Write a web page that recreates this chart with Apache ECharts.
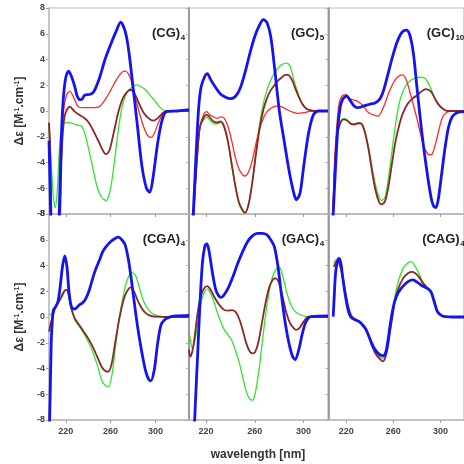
<!DOCTYPE html>
<html>
<head>
<meta charset="utf-8">
<script src="https://cdn.jsdelivr.net/npm/echarts@6/dist/echarts.min.js"></script>
<style>
  html, body { margin: 0; padding: 0; background: #fff; }
  #chart { width: 464px; height: 464px; }
</style>
</head>
<body>
<div id="chart"></div>
<script>
// CD spectra, six oligonucleotides; x = wavelength (nm), y = Δε
const xTicks = [220, 260, 300];
const xRanges = [[205, 330], [206, 320], [205, 320]]; // per column

// (CG)4
const cg4Red = [[205,-1],[206,-3],[207.5,-9],[210,-12],[213,-12],[214.5,-8],[216,-3.5],[218,0],[220.5,1.2],[223.5,1.55],[228,0.86],[231,0.34],[235,0.26],[240,0.26],[245,0.26],[250,0.34],[255,0.86],[260,1.6],[265,2.4],[270,3.0],[273,3.1],[277,2.7],[281,1.5],[285,0.08],[289,-1.1],[293,-1.9],[296,-2.05],[299,-1.75],[303,-0.83],[307,-0.2],[312,0],[330,0]];
const cg4Green = [[205,-0.9],[207,-4],[209,-6.8],[210.7,-7.5],[212.5,-6],[214,-3.5],[215.5,-1.8],[218,-1.0],[222,-0.88],[226,-0.96],[230,-1.1],[234,-1.17],[237,-1.75],[240,-2.8],[244,-4.35],[248,-5.9],[252,-6.7],[256,-6.95],[259,-6.4],[262,-4.9],[265,-2.8],[268,-0.8],[271,0.6],[275,1.5],[279,1.85],[283,2.03],[287,1.9],[291,1.65],[295,1.25],[299,0.86],[303,0.4],[307,0.08],[311,0],[330,0]];
const cg4Brown = [[205,-0.9],[206,-3],[207.5,-9],[210,-12],[213,-12],[215,-8],[216.5,-3],[219,-0.4],[223.5,0.34],[228,-0.05],[232,-0.3],[236,-0.5],[240,-0.83],[245,-1.6],[250,-2.5],[254,-3.2],[256,-3.35],[259,-3.05],[263,-1.6],[267,-0.05],[271,1.0],[275,1.5],[278,1.65],[282,1.25],[286,0.47],[290,-0.2],[294,-0.57],[298,-0.75],[302,-0.57],[306,-0.2],[310,0],[330,0]];
const cg4Blue = [[205,-2.3],[206,-6],[206.7,-9],[209,-14],[212,-14],[213.8,-9],[215,-5],[216.5,-1],[218,1.2],[220,2.6],[222.5,3.1],[225,2.7],[228,1.9],[230,1.2],[232,0.9],[234,0.88],[237,1.25],[242,1.3],[245,1.5],[250,2.55],[255,4.0],[260,5.15],[265,6.2],[269,6.9],[273,6.2],[276,4.8],[280,1.9],[284,-1.2],[288,-4.3],[292,-6.0],[295,-6.3],[298,-5.1],[302,-2.5],[306,-0.7],[310,-0.05],[320,0],[330,0.1]];

// (GC)5
const gc5Green = [[208,-14],[209.5,-9],[211,-6],[213,-3],[215,-1.3],[218,-0.7],[220.5,-0.5],[223,-0.7],[226,-0.96],[229,-1.0],[232,-0.9],[235,-1.35],[238,-2.5],[241,-4.2],[244,-5.9],[247,-7.2],[250,-7.8],[252,-7.95],[255,-7.2],[258,-5.4],[261,-3.05],[264,-0.96],[267,0.6],[270,1.64],[273,2.4],[276,2.95],[279,3.33],[282,3.6],[286,3.72],[289,3.46],[292,2.4],[295,1.5],[298,0.73],[301,0.29],[305,0.08],[310,0],[320,0]];
const gc5Red = [[211,-6],[213,-3.5],[215,-1.3],[218,-0.3],[220.5,-0.05],[223,-0.3],[226,-0.45],[229,-0.57],[232,-0.45],[235,-0.57],[238,-1.2],[241,-2.3],[244,-3.6],[247,-4.5],[250,-4.95],[252,-5.05],[255,-4.7],[258,-3.8],[261,-2.5],[264,-1.35],[267,-0.57],[270,-0.05],[273,0.2],[276,0.34],[279,0.4],[283,0.28],[287,0.08],[291,-0.08],[295,-0.18],[300,-0.13],[305,-0.03],[310,0],[320,0]];
const gc5Brown = [[208,-14],[209.5,-9],[211,-6],[213,-3],[215,-1.2],[218,-0.5],[220.5,-0.3],[223,-0.5],[226,-0.8],[229,-0.9],[232,-0.8],[235,-1.25],[238,-2.4],[241,-4.1],[244,-5.8],[247,-7.1],[250,-7.7],[252,-7.9],[255,-7.2],[258,-5.5],[261,-3.3],[264,-1.3],[267,0.1],[270,1.0],[273,1.6],[276,2.0],[279,2.35],[282,2.6],[285,2.8],[287,2.8],[290,2.5],[293,1.8],[296,1.1],[299,0.55],[302,0.2],[306,0.05],[310,0],[320,0]];
const gc5Blue = [[206,-16],[208,-12],[209.5,-8],[210.5,-6],[212,-3],[214,0.34],[216,1.9],[219,2.7],[221,2.9],[224,2.4],[228,1.8],[232,1.3],[236,1.07],[240,0.96],[244,1.12],[248,1.77],[252,3.0],[256,4.5],[260,5.8],[264,6.7],[267,7.1],[270,6.85],[273,5.8],[276,3.5],[280,0.08],[284,-2.3],[288,-4.6],[292,-6.4],[294,-6.9],[297,-6.4],[300,-4.35],[304,-1.75],[308,-0.3],[312,0],[320,0]];

// (GC)10
const gc10Green = [[207,-12],[208.5,-9],[210,-5],[212,-2],[214,-1.2],[216,-0.7],[218,-0.6],[221,-0.7],[224,-0.96],[227,-1.0],[230,-0.9],[233,-0.96],[236,-1.6],[239,-2.8],[242,-4.35],[245,-5.8],[248,-6.7],[250,-6.95],[253,-6.7],[256,-5.1],[259,-3.05],[262,-0.96],[265,0.6],[268,1.5],[271,2.0],[274,2.34],[277,2.5],[280,2.6],[283,2.62],[286,2.6],[289,2.3],[292,1.7],[295,1.0],[298,0.5],[302,0.15],[306,0],[320,0]];
const gc10Red = [[207,-12],[208.5,-9],[210,-4.3],[212,-1.2],[214,0.6],[216,1.1],[218,1.25],[220,1.27],[223,0.99],[226,0.86],[229,0.78],[232,0.6],[235,0.34],[238,-0.05],[241,-0.23],[244,-0.33],[247,-0.4],[250,-0.05],[253,0.6],[256,1.38],[259,2.0],[262,2.47],[265,2.73],[268,2.8],[271,2.4],[274,1.5],[277,0.47],[280,-0.57],[283,-1.75],[286,-2.8],[289,-3.3],[291,-3.4],[293,-3.35],[296,-2.5],[299,-1.35],[302,-0.45],[306,-0.08],[310,0],[320,0]];
const gc10Brown = [[207,-12],[208.5,-9],[210,-5],[212,-2],[214,-1.2],[216,-0.75],[218,-0.65],[221,-0.75],[224,-1.0],[227,-1.05],[230,-0.95],[233,-1.0],[236,-1.7],[239,-3.0],[242,-4.7],[245,-6.2],[248,-7.1],[250,-7.25],[253,-7.0],[256,-5.8],[259,-4.0],[262,-2.3],[265,-1.1],[268,-0.2],[272.5,0.6],[276.7,1.0],[280.8,1.25],[283.6,1.5],[287.8,1.7],[292,1.5],[296,0.86],[300,0.34],[306,0],[320,0]];
const gc10Blue = [[205,-14],[208,-10],[209,-8],[211,-4.35],[213,-1.2],[215,0.34],[217,0.9],[219,1.1],[220.5,1.15],[223,0.86],[226,0.47],[229,0.26],[232,0.29],[235,0.4],[238,0.47],[241,0.55],[244,0.6],[248,0.86],[251,1.4],[255,2.7],[259,4.1],[263,5.3],[267,6.07],[271,6.28],[274,5.9],[277,4.5],[280,1.9],[284,-1.5],[288,-4.35],[292,-6.7],[294,-7.35],[296,-7.5],[298,-6.95],[301,-4.9],[304,-2.8],[307,-1.2],[310,-0.45],[314,-0.13],[320,-0.05]];

// (CGA)4
const cga4Green = [[205,0.23],[207,0.15],[209,0.55],[211,0.8],[213,1.2],[215,1.53],[217,1.84],[219,2.05],[221,2.05],[223,1.45],[225,0.55],[228,-0.23],[232,-0.75],[236,-1.27],[240,-1.9],[244,-2.7],[248,-3.7],[252,-4.9],[255,-5.3],[258,-5.4],[261,-4.6],[264,-2.56],[267,-0.5],[270,1.06],[273,2.36],[276,3.13],[279,3.45],[282,3.26],[285,2.5],[288,1.58],[291,0.93],[294,0.55],[298,0.23],[303,0.08],[308,0],[330,0]];
const cga4Brown = [[205,-1.14],[207,-0.36],[209,0.28],[211,0.8],[213,1.06],[215,1.37],[217,1.7],[219,2.05],[221,2.1],[223,1.53],[225,0.67],[228,-0.1],[232,-0.62],[236,-1.14],[240,-1.66],[244,-2.3],[248,-3.08],[252,-3.86],[255,-4.17],[258,-4.25],[261,-3.6],[264,-2.05],[267,-0.5],[270,0.8],[273,1.7],[276,2.18],[278,2.3],[281,1.97],[284,1.32],[287,0.8],[290,0.41],[294,0.15],[300,0.03],[330,0]];
const cga4Blue = [[205,-10],[206,-6.2],[207,-2],[208,-0.23],[209,0.55],[211,0.8],[213,1.2],[215,2.36],[217,3.9],[219,4.75],[221,3.9],[223,1.84],[225,0.8],[227,0.62],[229,0.67],[232,0.93],[235,1.1],[238,1.45],[241,2.1],[244,3.0],[247,3.78],[250,4.4],[253,5.08],[256,5.47],[260,5.85],[264,6.1],[267,6.2],[270,6.0],[273,5.6],[276,4.4],[279,2.6],[282,0.55],[285,-1.27],[288,-2.8],[291,-4.1],[294,-4.85],[296,-4.95],[299,-4.1],[302,-2.05],[305,-0.62],[308,-0.23],[312,-0.03],[318,0.08],[330,0.13]];

// (GAC)4
const gac4Green = [[206,-1.14],[208,-2.2],[209,-2.45],[211,-1.8],[213,-0.5],[215,0.67],[217,1.53],[219,1.97],[221,2.18],[223,1.97],[226,1.32],[229,0.41],[232,-0.36],[235,-1.0],[238,-1.4],[241,-1.8],[244,-2.56],[247,-3.47],[250,-4.64],[253,-5.8],[256,-6.4],[258,-6.45],[260,-6.06],[263,-4.4],[266,-2.05],[269,0.28],[272,2.1],[275,3.26],[278,3.78],[280,3.9],[283,3.13],[286,1.97],[289,1.06],[292,0.54],[296,0.23],[300,0.08],[305,0],[320,0]];
const gac4Brown = [[206,-2.56],[207,-3.08],[209,-2.56],[211,-1.27],[213,0.28],[215,1.32],[217,1.97],[219,2.3],[221,2.4],[223,2.23],[226,1.7],[229,1.2],[232,0.8],[235,0.54],[238,0.49],[241,0.54],[244,0.41],[247,-0.1],[250,-1.0],[253,-2.05],[256,-2.7],[258,-2.82],[260,-2.77],[263,-1.92],[266,-0.36],[269,1.2],[272,2.36],[275,2.93],[277,3.0],[280,2.6],[283,1.45],[286,0.28],[289,-0.5],[292,-0.88],[294,-1.0],[297,-0.8],[300,-0.36],[304,0.03],[310,0],[320,0]];
const gac4Blue = [[206,-16],[209,-12],[211,-7.2],[213,-3.1],[215,1.06],[217,4.2],[219,5.5],[220.5,5.67],[222,5.34],[224,4.17],[226,3.0],[228,2.1],[230,1.7],[232,1.53],[234,1.63],[238,2.23],[242,3.13],[246,4.17],[250,5.08],[254,5.85],[258,6.3],[262,6.5],[266,6.5],[270,6.37],[273,6.0],[276,5.47],[279,3.9],[282,1.58],[285,-0.5],[288,-2.05],[291,-3.08],[293,-3.3],[296,-2.56],[299,-1.27],[302,-0.36],[306,0.03],[320,0.08]];

// (CAG)4
const cag4Green = [[209.5,4.2],[211,4.4],[213,4.48],[215,4.04],[217,3.26],[219,2.23],[221,1.32],[223,0.54],[225,0.08],[228,-0.18],[231,-0.3],[234,-0.57],[237,-1.0],[240,-1.66],[243,-2.36],[246,-2.82],[249,-3.13],[251,-3.2],[253,-2.95],[255,-2.18],[257.2,-1.0],[259.2,0.28],[261.1,1.45],[264.2,2.75],[268.3,3.78],[272.5,4.22],[275,4.3],[277,4.17],[281,3.52],[285,2.75],[289,2.25],[292,1.97],[294.7,1.2],[297.5,0.41],[301.7,0.08],[310,0],[320,0]];
const cag4Brown = [[209.5,3.9],[211,4.2],[213,4.35],[215,3.9],[217,3.1],[219,2.0],[221,1.0],[223,0.35],[225,0],[228,-0.2],[231,-0.35],[234,-0.62],[237,-1.05],[240,-1.75],[243,-2.5],[246,-3.0],[249,-3.3],[251,-3.45],[253,-3.2],[255,-2.5],[257.2,-1.2],[259.2,0],[261.1,1.1],[264.2,2.2],[268.3,3.0],[272.5,3.4],[276,3.5],[281,3.2],[285,2.65],[289,2.25],[292,1.95],[294.7,1.2],[297.5,0.41],[301.7,0.08],[310,0],[320,0]];
const cag4Blue = [[209,0.03],[210,1.84],[211,3.4],[212.5,4.3],[214,4.56],[215.5,4.17],[217,3.13],[219,1.84],[221,0.8],[223,0.15],[225,-0.1],[228,-0.23],[231,-0.36],[234,-0.62],[237,-1.0],[240,-1.66],[243,-2.3],[246,-2.7],[248,-2.88],[250,-2.98],[252,-3.0],[254,-2.6],[255.5,-1.8],[257.2,-0.7],[259.2,0.4],[261.1,1.2],[264.2,1.9],[268.3,2.4],[272.5,2.75],[276.7,2.88],[280.8,2.67],[285,2.4],[289.2,2.2],[292,1.95],[294.7,1.2],[297.5,0.41],[301.7,0.08],[310,0],[320,0]];

const panelTitles = [['(CG)', '4'], ['(GC)', '5'], ['(GC)', '10'], ['(CGA)', '4'], ['(GAC)', '4'], ['(CAG)', '4']];
const panelSeries = [
  [['green', cg4Green], ['red', cg4Red], ['brown', cg4Brown], ['blue', cg4Blue]],
  [['green', gc5Green], ['red', gc5Red], ['brown', gc5Brown], ['blue', gc5Blue]],
  [['green', gc10Green], ['red', gc10Red], ['brown', gc10Brown], ['blue', gc10Blue]],
  [['green', cga4Green], ['brown', cga4Brown], ['blue', cga4Blue]],
  [['green', gac4Green], ['brown', gac4Brown], ['blue', gac4Blue]],
  [['green', cag4Green], ['brown', cag4Brown], ['blue', cag4Blue]],
];

const COLORS = { blue: '#1414f0', red: '#ff2a2a', green: '#2ee62e', brown: '#8e2626' };
const WIDTHS = { blue: 2.8, red: 1.3, green: 1.3, brown: 1.8 };
const FONT = 'Arial, "Liberation Sans", sans-serif';

const colLeft = [49, 189, 328.5];
const colWidth = [140, 139, 140];
const rowTop = [8, 214];
const rowH = 206;

const chart = echarts.init(document.getElementById('chart'), null, { renderer: 'canvas' });

const grids = [], xAxes = [], yAxes = [], series = [], graphics = [];
panelSeries.forEach((list, i) => {
  const col = i % 3, row = Math.floor(i / 3);
  grids.push({
    left: colLeft[col], top: rowTop[row], width: colWidth[col], height: rowH,
    show: true, borderColor: '#bdbdbd', borderWidth: 1.2,
  });
  xAxes.push({
    type: 'value', gridIndex: i, min: xRanges[col][0], max: xRanges[col][1],
    axisLine: { show: true, onZero: false, lineStyle: { color: '#b8b8b8', width: 1.5 } },
    axisTick: { show: true, customValues: xTicks, length: 3, lineStyle: { color: '#999' } },
    axisLabel: {
      show: row === 1, customValues: xTicks, fontSize: 9, fontWeight: 'bold',
      color: '#444', margin: 7, fontFamily: FONT,
    },
    splitLine: { show: false },
  });
  yAxes.push({
    type: 'value', gridIndex: i, min: -8, max: 8, interval: 2,
    axisLine: { show: true, onZero: false, lineStyle: { color: col === 0 ? '#c0c0c0' : '#8a8a8a', width: 1.5 } },
    axisTick: { show: true, length: 3, lineStyle: { color: '#aaa' } },
    axisLabel: {
      show: col === 0, fontSize: 9, fontWeight: 'bold', color: '#444', margin: 4, fontFamily: FONT,
      formatter: v => String(v),
    },
    splitLine: { show: false },
  });
  list.forEach(([key, data]) => {
    series.push({
      type: 'line', xAxisIndex: i, yAxisIndex: i, data,
      showSymbol: false, smooth: 0.3, clip: true, silent: true,
      lineStyle: { color: COLORS[key], width: WIDTHS[key] },
    });
  });

  // panel label, with subscript
  const [main, sub] = panelTitles[i];
  const subW = sub.length * 4.8;
  const right = colLeft[col] + colWidth[col] - 4 - subW;
  const cy = row === 0 ? 33 : 239;
  graphics.push({
    type: 'text', x: right, y: cy,
    style: { text: main, align: 'right', verticalAlign: 'middle', font: 'bold 13px ' + FONT, fill: '#222' },
  });
  graphics.push({
    type: 'text', x: right + 0.5, y: cy + 4.5,
    style: { text: sub, align: 'left', verticalAlign: 'middle', font: 'bold 8px ' + FONT, fill: '#222' },
  });
});

// y-axis names (one per row), x-axis name
[111, 317].forEach(cy => {
  graphics.push({
    type: 'text', x: 20, y: cy, rotation: Math.PI / 2,
    style: {
      text: 'Δε [M{sup|-1}.cm{sup|-1}]', align: 'center', verticalAlign: 'middle',
      font: 'bold 12px ' + FONT, fill: '#333',
      rich: { sup: { fontSize: 7, fontWeight: 'bold', fontFamily: FONT, verticalAlign: 'top', fill: '#333' } },
    },
  });
});
graphics.push({
  type: 'text', x: 258, y: 455,
  style: { text: 'wavelength [nm]', align: 'center', verticalAlign: 'middle', font: 'bold 12px ' + FONT, fill: '#333' },
});

chart.setOption({
  animation: false,
  backgroundColor: '#fff',
  grid: grids,
  xAxis: xAxes,
  yAxis: yAxes,
  series,
  graphic: graphics,
});
</script>
</body>
</html>
